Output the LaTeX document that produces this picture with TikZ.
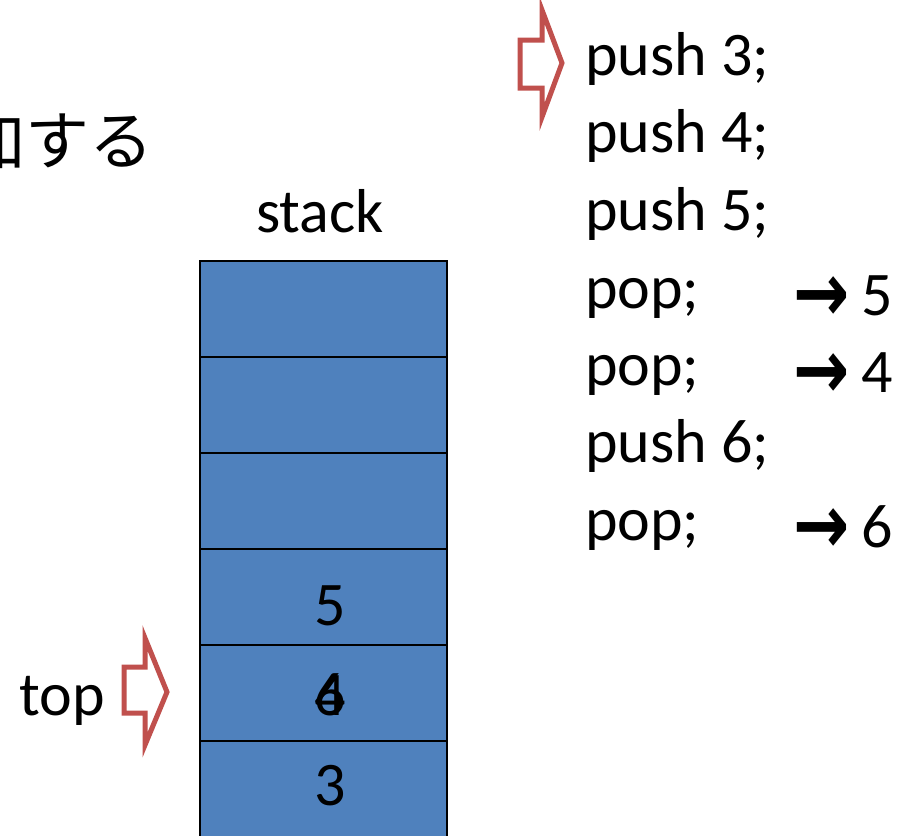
\documentclass[tikz,border=0pt]{standalone}
\usepackage{fontspec}
\usepackage{graphicx}
\setmainfont{Carlito}
\newfontfamily\jpfont{Noto Sans CJK JP}
\newfontfamily\arrowfont{DejaVu Sans Bold}
\definecolor{stackblue}{HTML}{4F81BD}
\definecolor{arrowred}{HTML}{C0504D}
\tikzset{
  big/.style={font=\fontsize{62}{74}\selectfont, inner sep=0pt, anchor=base west},
  cell/.style={draw=black, line width=2.5pt, fill=stackblue},
  bigarrow/.style={draw=arrowred, line width=5pt, fill=white, line join=miter},
}
\newcommand{\resarrow}{\smash{\raisebox{-6pt}{\scalebox{1.05}[1.3]{\arrowfont\fontsize{64}{70}\selectfont →}}}}
\begin{document}
\begin{tikzpicture}[x=1pt,y=-1pt]
\useasboundingbox (0,0) rectangle (912,835);
\clip (0,0) rectangle (912,835);
% title fragment
\node[font=\jpfont\fontsize{64}{70}\selectfont, inner sep=0pt, anchor=base east] (title) at (154,164) {加する};
% stack
\foreach \i/\t in {0/261,1/357,2/453,3/549,4/645,5/741} {
  \pgfmathtruncatemacro{\b}{\t+96}
  \draw[cell] (200,\t) rectangle (447,\b);
}
\node[big, anchor=base] (lbl) at (320,232) {stack};
\node[big, anchor=base] (v5) at (330,625) {5};
\node[big, anchor=base] (v4) at (330,715) {4};
\node[big, anchor=base] (v6) at (330,715) {6};
\node[big, anchor=base] (v3) at (330,805) {3};
\node[big, anchor=base] (top) at (62,715) {top};
% top arrow
\draw[bigarrow] (124,667) -- (145,667) -- (145,638) -- (167,692) -- (145,745) -- (145,713) -- (124,713) -- cycle;
% program arrow
\draw[bigarrow] (520,40) -- (542,40) -- (542,10) -- (562,63) -- (542,117) -- (542,88) -- (520,88) -- cycle;
% program
\node[big] (l1) at (585,75) {push 3;};
\node[big] (l2) at (585,152) {push 4;};
\node[big] (l3) at (585,230) {push 5;};
\node[big] (l4) at (585,308) {pop;};
\node[big] (l5) at (585,385) {pop;};
\node[big] (l6) at (585,462) {push 6;};
\node[big] (l7) at (585,540) {pop;};
\node[big] (r1) at (793,315) {\resarrow\hspace{12pt}5};
\node[big] (r2) at (793,392) {\resarrow\hspace{12pt}4};
\node[big] (r3) at (793,547) {\resarrow\hspace{12pt}6};
\end{tikzpicture}
\end{document}
